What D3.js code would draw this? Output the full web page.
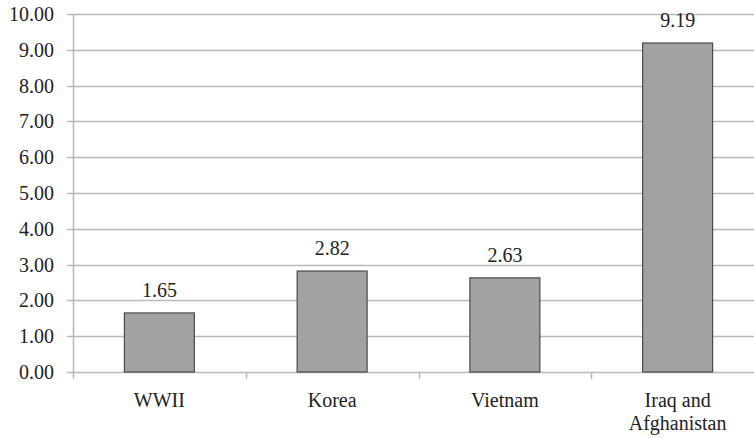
<html><head><meta charset="utf-8"><script src="https://cdn.jsdelivr.net/npm/d3@7"></script>
<style>
  svg text { font-family: "Liberation Serif", "Times New Roman", Tinos, serif !important; }
</style>
</head>
<body style="margin:0;background:#fff">
<svg id="chart" width="754" height="438" font-family="Liberation Serif"></svg>
<script>
// Values per conflict
const categories = ["WWII", "Korea", "Vietnam", "Iraq and Afghanistan"];
const values = [1.65, 2.82, 2.63, 9.19];
const yTicks = [0, 1, 2, 3, 4, 5, 6, 7, 8, 9, 10];

const svg = d3.select("#chart");

const margin = { left: 73, top: 14, bottom: 66 };
const plotRight = 764;
const H = 438;

const x = d3.scaleBand()
  .domain(categories)
  .range([margin.left, plotRight])
  .paddingInner(0.595)
  .paddingOuter(0.2975);

const bandScale = d3.scaleBand().domain(categories).range([margin.left, plotRight]);

const y = d3.scaleLinear().domain([0, 10]).range([H - margin.bottom, margin.top]);

const gridColor = "#b9b9b9";
const textColor = "#222";

// Horizontal gridlines with a short tick left of the axis
svg.append("g")
  .selectAll("line")
  .data(yTicks)
  .join("line")
  .attr("x1", margin.left - 6)
  .attr("x2", plotRight)
  .attr("y1", d => Math.round(y(d)) + 0.5)
  .attr("y2", d => Math.round(y(d)) + 0.5)
  .attr("stroke", gridColor)
  .attr("stroke-width", 1.5);

// Vertical axis line
svg.append("line")
  .attr("x1", margin.left + 0.5).attr("x2", margin.left + 0.5)
  .attr("y1", y(10)).attr("y2", y(0) + 7)
  .attr("stroke", gridColor).attr("stroke-width", 1.5);

// Category boundary ticks below the axis
svg.append("g")
  .selectAll("line")
  .data(categories.slice(1))
  .join("line")
  .attr("x1", d => Math.round(bandScale(d)) + 0.5)
  .attr("x2", d => Math.round(bandScale(d)) + 0.5)
  .attr("y1", y(0))
  .attr("y2", y(0) + 7)
  .attr("stroke", gridColor)
  .attr("stroke-width", 1.5);

// Bars
svg.append("g")
  .selectAll("rect")
  .data(categories)
  .join("rect")
  .attr("x", d => x(d))
  .attr("y", (d, i) => y(values[i]))
  .attr("width", x.bandwidth())
  .attr("height", (d, i) => y(0) - y(values[i]))
  .attr("fill", "#a2a2a5")
  .attr("stroke", "#4a4a4a")
  .attr("stroke-width", 1.2);

// Y axis labels
svg.selectAll("text.ytick")
  .data(yTicks)
  .join("text")
  .attr("class", "ytick")
  .attr("x", 54)
  .attr("y", d => y(d) + 7)
  .attr("text-anchor", "end")
  .attr("fill", textColor)
  .attr("font-size", 20)
  .text(d => d3.format(".2f")(d));

// Value labels above bars
svg.selectAll("text.value")
  .data(categories)
  .join("text")
  .attr("class", "value")
  .attr("x", d => x(d) + x.bandwidth() / 2)
  .attr("y", (d, i) => y(values[i]) - 16)
  .attr("text-anchor", "middle")
  .attr("fill", textColor)
  .attr("font-size", 20)
  .text((d, i) => values[i].toFixed(2));

// Category labels, wrapped to two lines where needed
const labelLines = { "Iraq and Afghanistan": ["Iraq and", "Afghanistan"] };
svg.selectAll("text.cat")
  .data(categories)
  .join("text")
  .attr("class", "cat")
  .attr("x", d => x(d) + x.bandwidth() / 2)
  .attr("y", 407)
  .attr("text-anchor", "middle")
  .attr("fill", textColor)
  .attr("font-size", 20)
  .each(function(d) {
    const lines = labelLines[d] || [d];
    d3.select(this).selectAll("tspan")
      .data(lines)
      .join("tspan")
      .attr("x", x(d) + x.bandwidth() / 2)
      .attr("dy", (l, i) => i === 0 ? 0 : 23)
      .text(l => l);
  });
</script>
</body>
</html>
